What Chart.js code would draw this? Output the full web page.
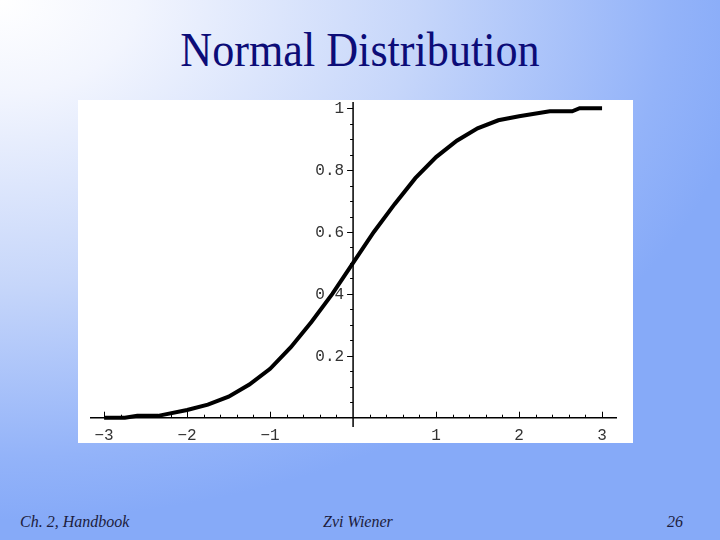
<!DOCTYPE html>
<html>
<head>
<meta charset="utf-8">
<script src="https://cdn.jsdelivr.net/npm/chart.js@4"></script>
<style>
  html, body { margin: 0; padding: 0; }
  body {
    width: 720px; height: 540px; overflow: hidden; position: relative;
    background: radial-gradient(ellipse 760px 520px at 0 0, #ffffff 0%, #f2f5fe 18%, #c6d6fa 55%, #93b3f9 88%, #86aaf8 100%);
  }
  #title {
    position: absolute; left: 0; top: 22px; width: 720px; text-align: center;
    font-family: "Liberation Serif", "Times New Roman", serif; font-size: 48px;
    color: #0c0c78; transform: scaleX(0.92);
  }
  #plot { position: absolute; left: 78px; top: 100px; width: 555px; height: 343px; background: #fff; }
  .foot {
    position: absolute; top: 513px; font-family: "Liberation Serif", serif;
    font-style: italic; font-size: 16px; color: #1c1c3c;
  }
</style>
</head>
<body>
<div id="title">Normal Distribution</div>
<div id="plot"><canvas id="chart" width="555" height="343"></canvas></div>
<div class="foot" style="left:20px">Ch. 2, Handbook</div>
<div class="foot" style="left:323px">Zvi Wiener</div>
<div class="foot" style="left:667px">26</div>
<script>
// points
const xs = [-3, -2.75, -2.6, -2.35, -2.0, -1.75, -1.5, -1.25, -1.0, -0.75, -0.5, -0.25, 0,
            0.25, 0.5, 0.75, 1.0, 1.25, 1.5, 1.75, 2.0, 2.37, 2.64, 2.73, 3];
const ys = [0, 0, 0.006, 0.006, 0.025, 0.042, 0.068, 0.107, 0.158, 0.228, 0.31, 0.40, 0.50,
            0.60, 0.69, 0.774, 0.842, 0.895, 0.935, 0.961, 0.974, 0.99, 0.99, 1.0, 1.0];

const xTicks = [-3, -2, -1, 1, 2, 3];
const yTicks = [0.2, 0.4, 0.6, 0.8, 1];

const points = xs.map((x, i) => ({ x: x, y: ys[i] }));

// Mathematica-style axes crossing at the origin
const axesPlugin = {
  id: "axes",
  beforeDatasetsDraw(chart) {
    const c = chart.ctx;
    const sx = chart.scales.x, sy = chart.scales.y;
    const ox = sx.getPixelForValue(0), oy = sy.getPixelForValue(0);
    c.save();
    c.strokeStyle = "#000";
    c.lineWidth = 1.5;
    c.beginPath();
    c.moveTo(chart.chartArea.left, oy);
    c.lineTo(chart.chartArea.right, oy);
    c.moveTo(ox, chart.chartArea.top);
    c.lineTo(ox, chart.chartArea.bottom);
    c.stroke();

    c.lineWidth = 1;
    c.beginPath();
    for (let k = -15; k <= 15; k++) {
      if (k === 0) continue;
      const px = Math.round(sx.getPixelForValue(k * 0.2)) + 0.5;
      const len = k % 5 === 0 ? 6 : 3;
      c.moveTo(px, oy);
      c.lineTo(px, oy - len);
    }
    for (let k = 1; k <= 20; k++) {
      const py = Math.round(sy.getPixelForValue(k * 0.05)) + 0.5;
      const len = k % 4 === 0 ? 6 : 3;
      c.moveTo(ox, py);
      c.lineTo(ox - len, py);
    }
    c.stroke();

    c.fillStyle = "#333";
    c.font = "16px 'Liberation Mono', monospace";
    c.textAlign = "center";
    c.textBaseline = "middle";
    xTicks.forEach(v => {
      const label = v < 0 ? "\u2212" + Math.abs(v) : String(v);
      c.fillText(label, sx.getPixelForValue(v), oy + 18);
    });
    c.textAlign = "right";
    yTicks.forEach(v => {
      c.fillText(String(v), ox - 9, sy.getPixelForValue(v) + 1);
    });
    c.restore();
  }
};

new Chart(document.getElementById("chart"), {
  type: "line",
  data: {
    datasets: [{
      data: points,
      borderColor: "#000",
      borderWidth: 4,
      pointRadius: 0,
      tension: 0,
      fill: false
    }]
  },
  options: {
    responsive: false,
    animation: false,
    layout: { padding: { left: 12, right: 16, top: 2, bottom: 16 } },
    plugins: { legend: { display: false }, tooltip: { enabled: false } },
    scales: {
      x: { type: "linear", min: -3.17, max: 3.18, display: false },
      y: { type: "linear", min: -0.03, max: 1.02, display: false }
    }
  },
  plugins: [axesPlugin]
});
</script>
</body>
</html>
